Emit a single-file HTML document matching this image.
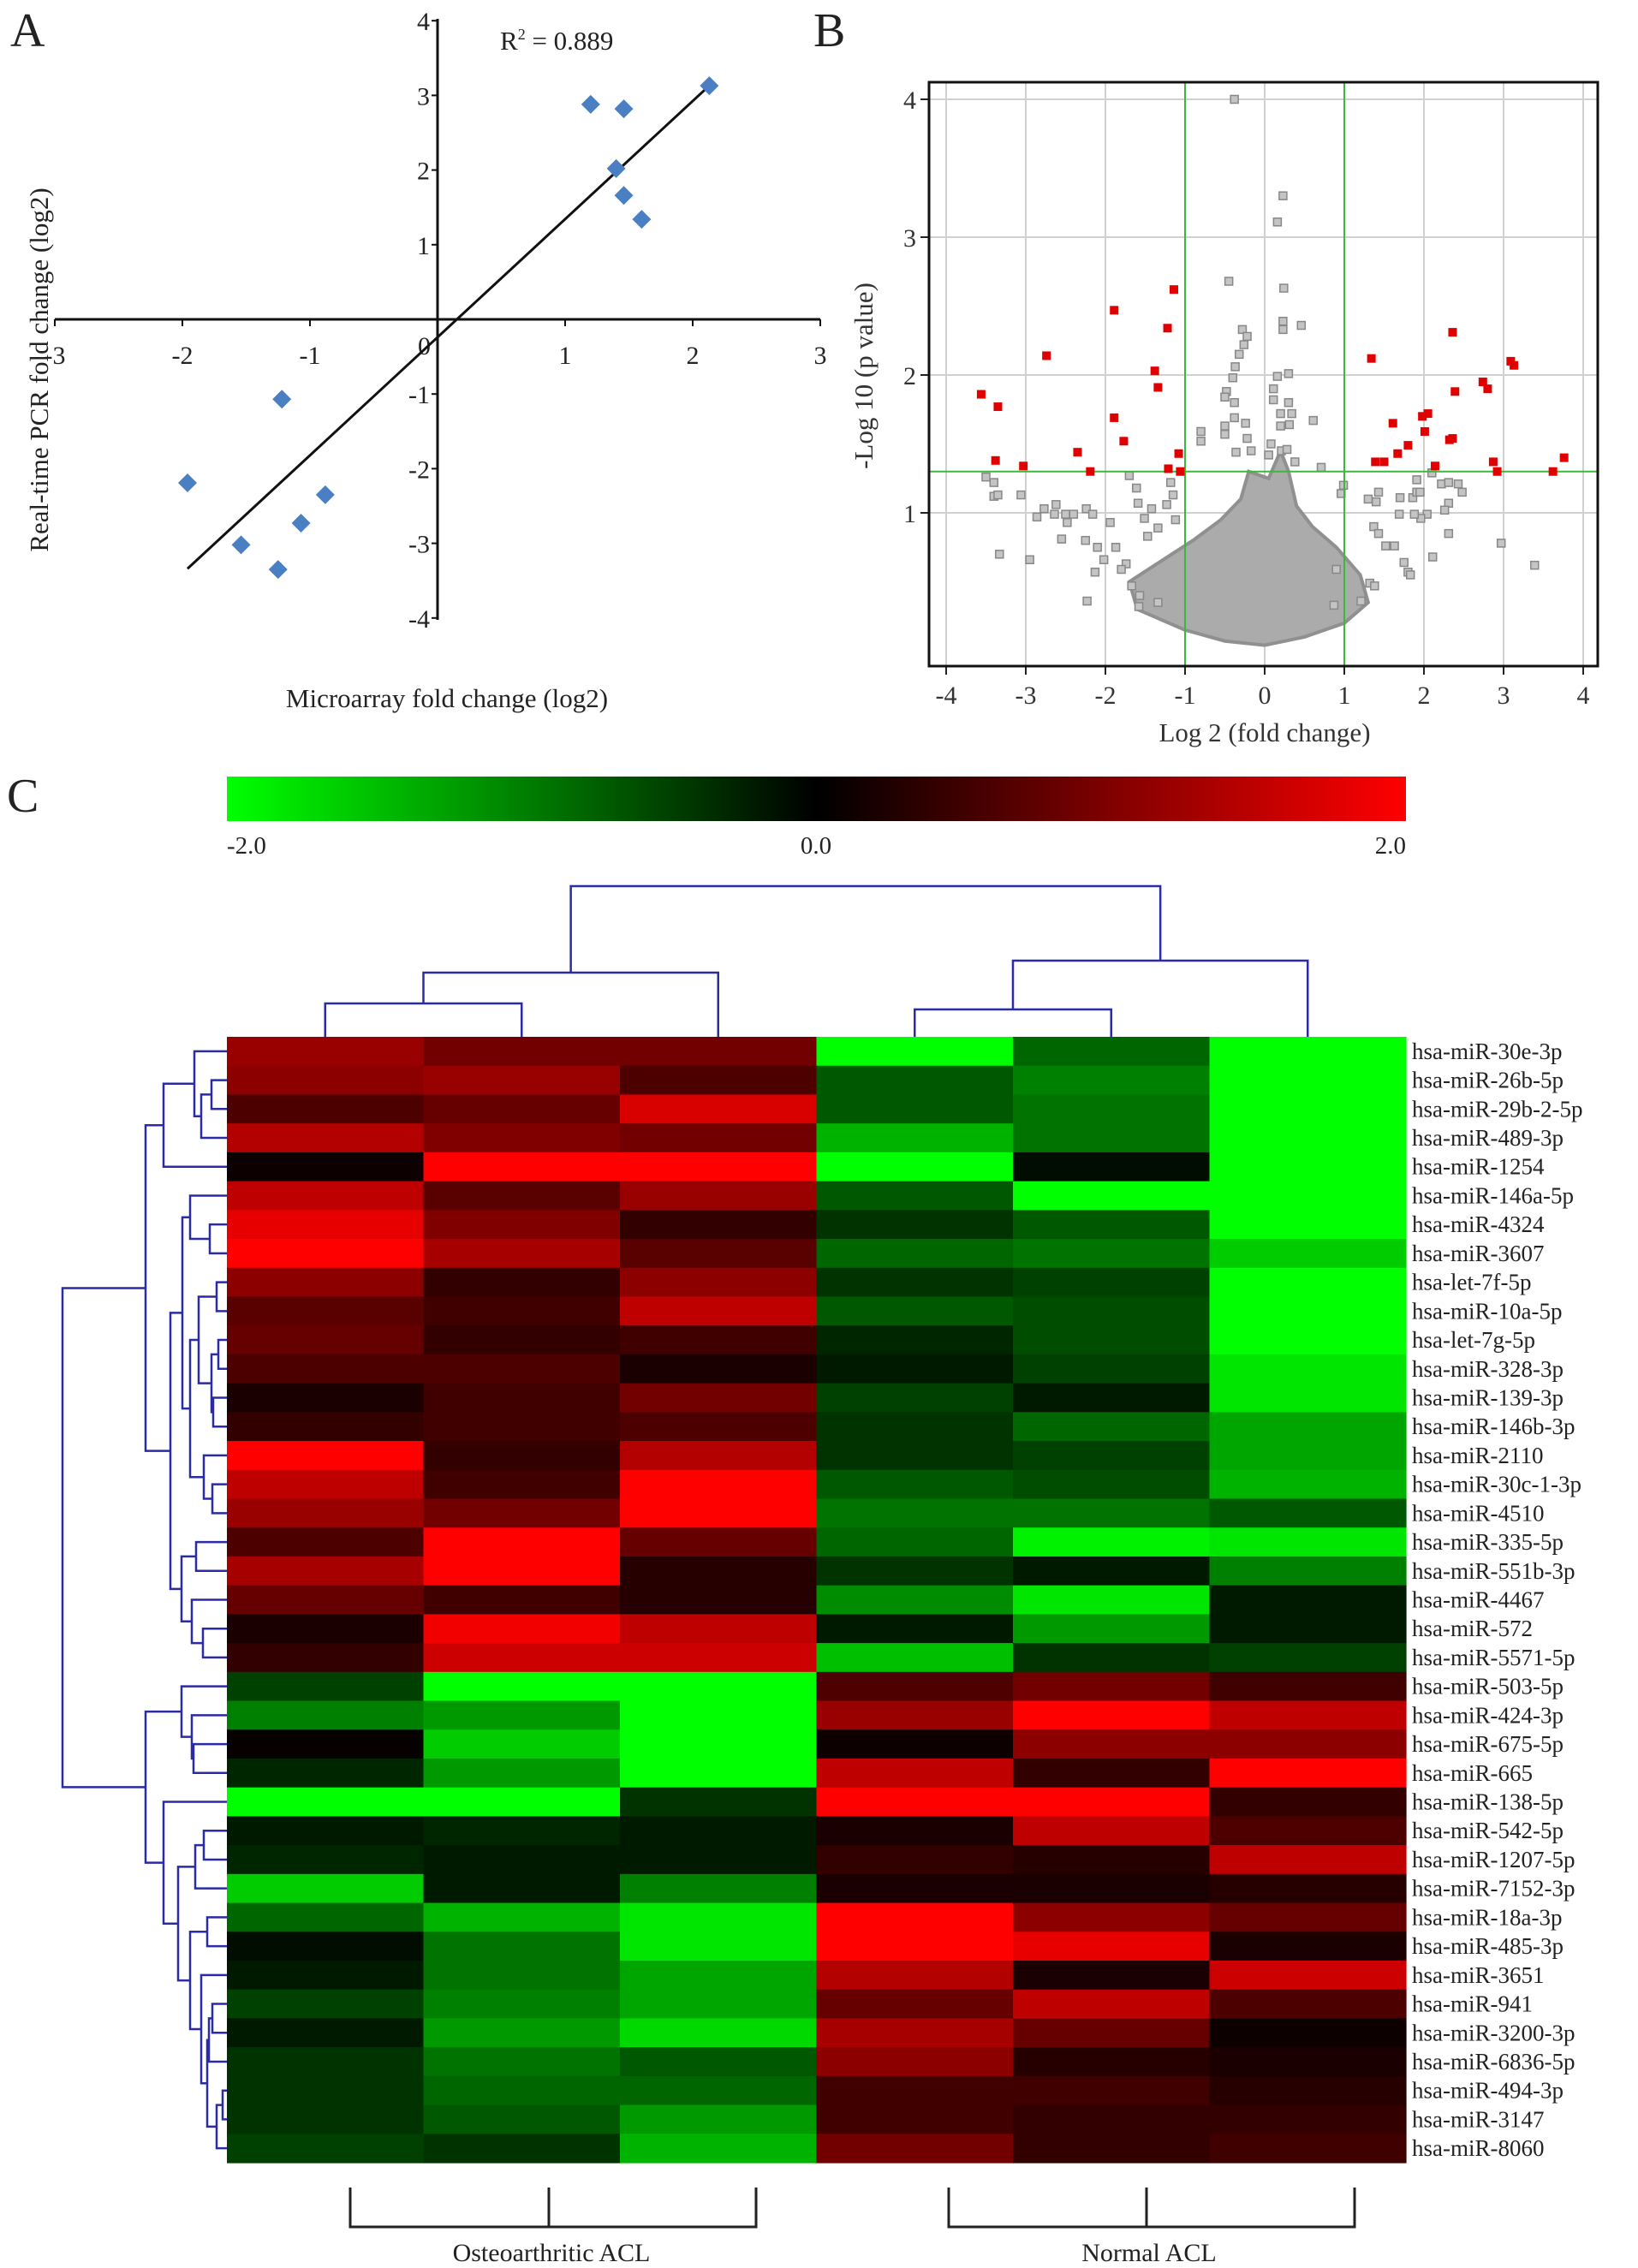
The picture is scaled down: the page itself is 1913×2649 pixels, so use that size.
<!DOCTYPE html>
<html><head><meta charset="utf-8"><style>
html,body{margin:0;padding:0;background:#fff;}
svg{display:block;font-family:"Liberation Serif",serif;}
</style></head><body>
<svg id="fig" xmlns="http://www.w3.org/2000/svg" width="1913" height="2649" viewBox="0 0 1913 2649">
<rect width="1913" height="2649" fill="#fff"/>
<text x="12" y="54" font-size="56" fill="#222">A</text>
<text x="950" y="54" font-size="56" fill="#222">B</text>
<text x="8" y="948" font-size="56" fill="#222">C</text>
<g id="pa"></g>
<g id="pb"></g>
<g id="pc"></g>
</svg>
<script>
// ---------- Panel A data ----------
const aMicro = [2.13,1.2,1.46,1.4,1.46,1.6,-1.22,-1.96,-0.88,-1.07,-1.54,-1.25];
const aPcr   = [3.13,2.88,2.82,2.02,1.66,1.34,-1.07,-2.19,-2.35,-2.73,-3.02,-3.35];
const aTicks = [-3,-2,-1,1,2,3];
const aYTicks = [-4,-3,-2,-1,1,2,3,4];
const aFitX = [-1.96,2.13];
const aFitY = [-3.34,3.13];
// ---------- Panel B data ----------
const redX = [-3.56,-3.35,-3.38,-3.03,-2.74,-2.35,-2.19,-1.89,-1.89,-1.77,-1.38,-1.34,-1.22,-1.14,-1.08,-1.21,-1.06,1.34,1.39,1.50,1.61,1.67,1.80,1.98,2.05,2.01,2.14,2.36,2.39,2.32,2.36,2.74,2.80,2.87,2.92,3.09,3.13,3.62,3.76];
const redY = [1.86,1.77,1.38,1.34,2.14,1.44,1.30,2.47,1.69,1.52,2.03,1.91,2.34,2.62,1.43,1.32,1.30,2.12,1.37,1.37,1.65,1.43,1.49,1.70,1.72,1.59,1.34,2.31,1.88,1.53,1.54,1.95,1.90,1.37,1.30,2.10,2.07,1.30,1.40];
const grayX = [-0.38,0.23,0.16,-0.45,0.24,-0.28,-0.22,-0.26,-0.32,0.23,0.23,0.46,-0.37,-0.4,0.16,0.3,-0.48,-0.5,-0.38,0.11,0.11,0.3,-0.38,-0.24,-0.5,-0.5,-0.22,-0.8,-0.8,0.61,0.2,0.34,0.2,0.31,0.08,-0.36,-0.17,0.05,0.21,0.28,0.38,0.71,
-3.5,-3.4,-3.4,-3.35,-3.06,-3.33,-2.95,-2.86,-2.77,-2.62,-2.64,-2.5,-2.48,-2.4,-2.55,-2.24,-2.16,-2.25,-2.1,-1.94,-2.23,-2.13,-2.02,-1.7,-1.61,-1.59,-1.42,-1.23,-1.51,-1.18,-1.15,-1.12,-1.34,-1.47,-1.87,-1.74,-1.8,-1.67,-1.57,-1.58,-1.34,
0.99,0.96,1.3,1.43,1.4,1.7,1.86,1.91,1.91,1.95,2.1,2.22,2.31,2.43,2.48,2.31,2.26,2.04,1.96,1.88,1.69,2.31,1.37,1.43,1.63,1.52,1.75,1.8,1.83,2.11,2.97,3.39,1.21,1.32,1.38,0.9,0.87];
const grayY = [4.0,3.30,3.11,2.68,2.63,2.33,2.28,2.22,2.15,2.39,2.33,2.36,2.06,1.98,1.99,2.01,1.88,1.84,1.80,1.90,1.82,1.80,1.69,1.65,1.63,1.57,1.54,1.59,1.52,1.67,1.72,1.72,1.63,1.64,1.50,1.44,1.45,1.42,1.45,1.46,1.37,1.33,
1.26,1.22,1.12,1.13,1.13,0.70,0.66,0.97,1.03,1.06,0.99,0.99,0.93,0.99,0.81,1.03,0.99,0.80,0.75,0.93,0.36,0.57,0.66,1.27,1.18,1.07,1.03,1.06,0.96,1.22,1.13,0.95,0.89,0.83,0.75,0.63,0.59,0.47,0.40,0.32,0.35,
1.20,1.14,1.10,1.15,1.08,1.11,1.11,1.24,1.15,1.15,1.29,1.21,1.22,1.21,1.15,1.07,1.02,0.99,0.96,0.99,0.99,0.85,0.90,0.85,0.76,0.76,0.64,0.57,0.55,0.68,0.78,0.62,0.36,0.49,0.47,0.59,0.33];
const coreX = [-1.0,-0.5,0,0.5,1.0,1.3,1.2,0.9,0.6,0.4,0.3,0.2,0.05,-0.2,-0.3,-0.55,-0.9,-1.3,-1.7,-1.6,-1.2];
const coreY = [0.15,0.07,0.04,0.1,0.2,0.35,0.55,0.75,0.9,1.05,1.3,1.45,1.25,1.3,1.1,0.95,0.8,0.65,0.5,0.3,0.2];
const bXTicks = [-4,-3,-2,-1,0,1,2,3,4];
const bYTicks = [1,2,3,4];
// ---------- Panel C data ----------
const mirnas = ["hsa-miR-30e-3p","hsa-miR-26b-5p","hsa-miR-29b-2-5p","hsa-miR-489-3p","hsa-miR-1254","hsa-miR-146a-5p","hsa-miR-4324","hsa-miR-3607","hsa-let-7f-5p","hsa-miR-10a-5p","hsa-let-7g-5p","hsa-miR-328-3p","hsa-miR-139-3p","hsa-miR-146b-3p","hsa-miR-2110","hsa-miR-30c-1-3p","hsa-miR-4510","hsa-miR-335-5p","hsa-miR-551b-3p","hsa-miR-4467","hsa-miR-572","hsa-miR-5571-5p","hsa-miR-503-5p","hsa-miR-424-3p","hsa-miR-675-5p","hsa-miR-665","hsa-miR-138-5p","hsa-miR-542-5p","hsa-miR-1207-5p","hsa-miR-7152-3p","hsa-miR-18a-3p","hsa-miR-485-3p","hsa-miR-3651","hsa-miR-941","hsa-miR-3200-3p","hsa-miR-6836-5p","hsa-miR-494-3p","hsa-miR-3147","hsa-miR-8060"];
const col1 = [1.2,1.1,0.6,1.4,0.1,1.5,1.8,2.0,1.1,0.7,0.8,0.6,0.2,0.4,2.0,1.5,1.2,0.6,1.3,0.8,0.2,0.4,-0.5,-1.0,0.05,-0.3,-2.0,-0.2,-0.3,-1.6,-0.8,-0.1,-0.2,-0.5,-0.2,-0.4,-0.4,-0.4,-0.5];
const col2 = [0.9,1.2,0.8,1.0,2.0,0.7,1.0,1.3,0.4,0.5,0.4,0.6,0.5,0.5,0.4,0.5,0.9,2.0,2.0,0.5,1.9,1.6,-2.0,-1.2,-1.6,-1.2,-2.0,-0.3,-0.2,-0.2,-1.4,-0.9,-0.9,-1.0,-1.2,-0.9,-0.8,-0.7,-0.4];
const col3 = [0.9,0.6,1.7,0.9,2.0,1.2,0.4,0.7,1.1,1.5,0.5,0.2,0.9,0.6,1.4,2.0,2.0,0.8,0.3,0.3,1.5,1.6,-2.0,-2.0,-2.0,-2.0,-0.4,-0.2,-0.2,-1.0,-1.8,-1.8,-1.3,-1.3,-1.7,-0.7,-0.8,-1.2,-1.4];
const col4 = [-2.0,-0.7,-0.7,-1.4,-2.0,-0.7,-0.4,-0.8,-0.4,-0.7,-0.3,-0.2,-0.5,-0.4,-0.4,-0.7,-0.9,-0.8,-0.4,-1.1,-0.2,-1.5,0.6,1.2,0.1,1.5,2.0,0.2,0.4,0.2,2.0,2.0,1.4,0.8,1.3,1.1,0.5,0.5,0.9];
const col5 = [-0.8,-1.0,-0.9,-0.9,-0.1,-2.0,-0.7,-0.9,-0.5,-0.6,-0.6,-0.5,-0.2,-0.8,-0.5,-0.6,-0.9,-1.9,-0.2,-1.8,-1.2,-0.4,0.9,2.0,1.1,0.4,2.0,1.5,0.3,0.2,1.1,1.8,0.2,1.5,0.8,0.3,0.5,0.4,0.4];
const col6 = [-2.0,-2.0,-2.0,-2.0,-2.0,-2.0,-2.0,-1.6,-2.0,-2.0,-2.0,-1.8,-1.8,-1.3,-1.3,-1.4,-0.7,-1.8,-1.0,-0.2,-0.2,-0.5,0.5,1.5,1.1,2.0,0.4,0.6,1.5,0.3,0.8,0.2,1.6,0.6,0.1,0.2,0.3,0.4,0.5];
const colorTicks = ["-2.0","0.0","2.0"];
const groups = ["Osteoarthritic ACL","Normal ACL"];
const rowMerges = [[1,2,247],["n0",3,235],[0,"n1",227],["n2",4,191],[6,7,245],[5,"n4",222],[8,9,253],[10,11,255],[12,13,249],["n7","n8",247],["n6","n9",232],[15,16,248],[14,"n11",238],["n10","n12",222],["n5","n13",213],[17,18,229],[20,21,237],[19,"n16",224],["n15","n17",212],["n14","n18",199],["n3","n19",170],[24,25,226],[23,"n21",224],[22,"n22",212],[27,28,238],["n24",29,228],[30,31,242],[33,34,248],["n27",35,244],[36,37,260],["n29",38,253],["n28","n30",242],[32,"n31",235],["n26","n32",222],["n25","n33",208],[26,"n34",191],["n23","n35",170],["n20","n36",73]];
const colMerges = [[0,1,1172],["n0",2,1136],[3,4,1179],["n2",5,1122],["n1","n3",1035]];

const NS="http://www.w3.org/2000/svg";
function mk(tag, attrs, parent){const e=document.createElementNS(NS,tag);for(const k in attrs)e.setAttribute(k,attrs[k]);parent.appendChild(e);return e;}

// ===== Panel A =====
const pa=document.getElementById('pa');
const axA = v=>511+v*149, ayA = v=>373-v*87.2;
let e;
e=mk('line',{x1:64,y1:373,x2:958,y2:373,stroke:'#111','stroke-width':3},pa);


e=mk('line',{x1:511,y1:22,x2:511,y2:724,stroke:'#111','stroke-width':3},pa);


aTicks.forEach(t=>{
  mk('line',{x1:axA(t),y1:373,x2:axA(t),y2:381,stroke:'#111','stroke-width':2},pa);
  e=mk('text',{x:axA(t),y:425,'font-size':30,'text-anchor':'middle',fill:'#222'},pa);
  e.textContent=t;
  
  
});
aYTicks.forEach(t=>{
  mk('line',{x1:504,y1:ayA(t),x2:511,y2:ayA(t),stroke:'#111','stroke-width':2},pa);
  e=mk('text',{x:502,y:ayA(t)+11,'font-size':30,'text-anchor':'end',fill:'#222'},pa);
  e.textContent=t;
  
  
});
e=mk('text',{x:503,y:414,'font-size':30,'text-anchor':'end',fill:'#222'},pa);e.textContent='0';


e=mk('line',{x1:axA(aFitX[0]),y1:ayA(aFitY[0]),x2:axA(aFitX[1]),y2:ayA(aFitY[1]),stroke:'#111','stroke-width':3},pa);


aMicro.forEach((x,i)=>{
  const cx=axA(x), cy=ayA(aPcr[i]);
  e=mk('polygon',{points:`${cx},${cy-11} ${cx+11},${cy} ${cx},${cy+11} ${cx-11},${cy}`,fill:'#4a7fc4'},pa);
  
  
});
e=mk('text',{x:584,y:58,'font-size':31,fill:'#222'},pa);
e.innerHTML='R<tspan font-size="18" dy="-12">2</tspan><tspan dy="12"> = 0.889</tspan>';


e=mk('text',{x:0,y:0,'font-size':31,'text-anchor':'middle',fill:'#222',transform:'translate(56,432) rotate(-90)'},pa);
e.textContent='Real-time PCR fold change (log2)';


e=mk('text',{x:522,y:826,'font-size':31,'text-anchor':'middle',fill:'#222'},pa);
e.textContent='Microarray fold change (log2)';



// ===== Panel B =====
const pb=document.getElementById('pb');
const BT=96, BB=778, BL=1085, BR=1866;
const axB=v=>1477+v*93, ayB=v=>760-v*161;
bXTicks.forEach(t=>{
  mk('line',{x1:axB(t),y1:BT,x2:axB(t),y2:BB,stroke:'#d0d0d0','stroke-width':2},pb);
  mk('line',{x1:axB(t),y1:BB,x2:axB(t),y2:BB+10,stroke:'#222','stroke-width':2},pb);
  e=mk('text',{x:axB(t),y:822,'font-size':30,'text-anchor':'middle',fill:'#333'},pb);
  e.textContent=t;
  
  
});
bYTicks.forEach(t=>{
  mk('line',{x1:BL,y1:ayB(t),x2:BR,y2:ayB(t),stroke:'#d0d0d0','stroke-width':2},pb);
  mk('line',{x1:BL-10,y1:ayB(t),x2:BL,y2:ayB(t),stroke:'#222','stroke-width':2},pb);
  e=mk('text',{x:1070,y:ayB(t)+11,'font-size':30,'text-anchor':'end',fill:'#333'},pb);
  e.textContent=t;
  
  
});
e=mk('polygon',{points:coreX.map((x,i)=>axB(x)+','+ayB(coreY[i])).join(' '),fill:'#ababab',stroke:'#909090','stroke-width':4},pb);


grayX.forEach((x,i)=>{
  e=mk('rect',{x:axB(x)-4.5,y:ayB(grayY[i])-4.5,width:9,height:9,fill:'#c4c4c4',stroke:'#888','stroke-width':1.5},pb);
  
  
});
[-1,1].forEach(v=>{
  e=mk('line',{x1:axB(v),y1:BT,x2:axB(v),y2:BB,stroke:'#3cb83c','stroke-width':2},pb);
  
  
});
e=mk('line',{x1:BL,y1:ayB(1.3),x2:BR,y2:ayB(1.3),stroke:'#3cb83c','stroke-width':2},pb);


redX.forEach((x,i)=>{
  e=mk('rect',{x:axB(x)-5,y:ayB(redY[i])-5,width:10,height:10,fill:'#e00000'},pb);
  
  
});
e=mk('rect',{x:BL,y:BT,width:BR-BL,height:BB-BT,fill:'none',stroke:'#111','stroke-width':3},pb);


e=mk('text',{x:0,y:0,'font-size':31,'text-anchor':'middle',fill:'#333',transform:'translate(1019,439) rotate(-90)'},pb);
e.textContent='-Log 10 (p value)';


e=mk('text',{x:1477,y:866,'font-size':31,'text-anchor':'middle',fill:'#333'},pb);
e.textContent='Log 2 (fold change)';



// ===== Panel C =====
const pc=document.getElementById('pc');
const defs=mk('defs',{},pc);
const lg=mk('linearGradient',{id:'cb',x1:0,x2:1,y1:0,y2:0},defs);
mk('stop',{offset:'0','stop-color':'#00ff00'},lg);
mk('stop',{offset:'0.5','stop-color':'#000'},lg);
mk('stop',{offset:'1','stop-color':'#ff0000'},lg);
e=mk('rect',{x:265,y:907,width:1377,height:52,fill:'url(#cb)'},pc);


const cbX=[265,953,1642], cbA=['start','middle','end'];
colorTicks.forEach((t,i)=>{
  e=mk('text',{x:cbX[i],y:997,'font-size':29,'text-anchor':cbA[i],fill:'#222'},pc);
  e.textContent=t;
  
  
});
const HL=265, HT=1211, HB=2526, HR=1642;
const cols=[col1,col2,col3,col4,col5,col6];
const cw=(HR-HL)/6, rh=(HB-HT)/mirnas.length;
function col(v){const t=Math.min(1,Math.abs(v)/2),c=Math.round(255*t);return v>=0?`rgb(${c},0,0)`:`rgb(0,${c},0)`;}
cols.forEach((arr,ci)=>arr.forEach((v,ri)=>{
  e=mk('rect',{x:HL+ci*cw,y:HT+ri*rh,width:cw+0.6,height:rh+0.6,fill:col(v)},pc);
  
  
}));
mirnas.forEach((m,i)=>{
  e=mk('text',{x:1649,y:HT+(i+0.5)*rh+9,'font-size':27,fill:'#222'},pc);
  e.textContent=m;
  
  
});
const DC='#2b2ba6';
const rpos={}, rh_={};
mirnas.forEach((m,i)=>{rpos[i]=HT+(i+0.5)*rh;rh_[i]=HL;});
rowMerges.forEach((m,k)=>{
  const a=m[0],b=m[1],x=m[2];
  const ya=rpos[a],yb=rpos[b];
  e=mk('path',{d:`M${rh_[a]},${ya}H${x}V${yb}H${rh_[b]}`,fill:'none',stroke:DC,'stroke-width':2.5},pc);
  
  
  rpos['n'+k]=(ya+yb)/2; rh_['n'+k]=x;
});
const cpos={}, ch_={};
for(let i=0;i<6;i++){cpos[i]=HL+(i+0.5)*cw;ch_[i]=HT;}
colMerges.forEach((m,k)=>{
  const a=m[0],b=m[1],y=m[2];
  e=mk('path',{d:`M${cpos[a]},${ch_[a]}V${y}H${cpos[b]}V${ch_[b]}`,fill:'none',stroke:DC,'stroke-width':2.5},pc);
  
  
  cpos['n'+k]=(cpos[a]+cpos[b])/2; ch_['n'+k]=y;
});
const brk=[[409,641,883],[1108,1339,1582]];
groups.forEach((g,i)=>{
  const [l,mdl,r]=brk[i];
  e=mk('path',{d:`M${l},2555V2601H${r}V2555M${mdl},2555V2601`,fill:'none',stroke:'#222','stroke-width':3},pc);
  
  
  e=mk('text',{x:mdl+3,y:2641,'font-size':30,'text-anchor':'middle',fill:'#222'},pc);
  e.textContent=g;
  
  
});
</script>
</body></html>
